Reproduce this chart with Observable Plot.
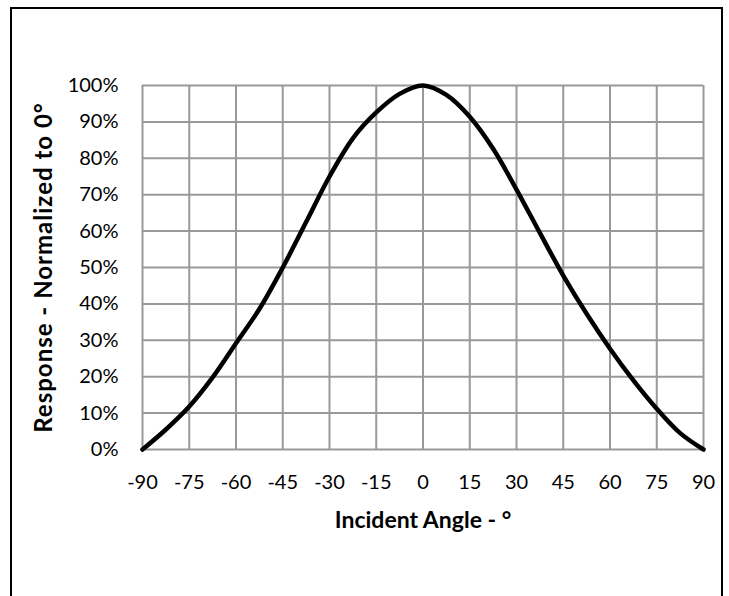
<!DOCTYPE html>
<html>
<head>
<meta charset="utf-8">
<script src="https://cdn.jsdelivr.net/npm/d3@7"></script>
<script src="https://cdn.jsdelivr.net/npm/@observablehq/plot@0.6"></script>
<style>
  html, body { margin: 0; padding: 0; background: #fff; }
  #wrap { position: relative; width: 729px; height: 596px; overflow: hidden; }
  #border { position: absolute; left: 10px; top: 7px; width: 713px; height: 600px; border: 2px solid #000; box-sizing: border-box; pointer-events: none; }
</style>
</head>
<body>
<div id="wrap"><div id="border"></div></div>
<script>
const angles = [-90, -82.5, -75, -67.5, -60, -52.5, -45, -37.5, -30, -22.5, -15, -7.5, 0, 7.5, 15, 22.5, 30, 37.5, 45, 52.5, 60, 67.5, 75, 82.5, 90];
const response = [0, 5.5, 11.8, 19.8, 29.2, 38.6, 50, 62.5, 75, 85.5, 92.6, 97.7, 100, 97.4, 91.4, 82.6, 71.4, 59.5, 47.8, 37.3, 27.7, 19, 11.2, 4.5, 0];
const xTicks = [-90, -75, -60, -45, -30, -15, 0, 15, 30, 45, 60, 75, 90];
const yTicks = [0, 10, 20, 30, 40, 50, 60, 70, 80, 90, 100];
const xTitle = "Incident Angle - °";
const yTitle = "Response - Normalized to 0°";

const data = angles.map((a, i) => ({angle: a, value: response[i]}));
const font = "Lato, 'Open Sans', sans-serif";

const chart = Plot.plot({
  width: 729,
  height: 596,
  marginLeft: 142,
  marginRight: 26,
  marginTop: 85,
  marginBottom: 147,
  style: {fontFamily: font, fontSize: "20px", color: "#000", background: "transparent"},
  x: {domain: [-90, 90]},
  y: {domain: [0, 100]},
  marks: [
    Plot.gridX(xTicks, {stroke: "#999", strokeOpacity: 1, strokeWidth: 2}),
    Plot.gridY(yTicks, {stroke: "#999", strokeOpacity: 1, strokeWidth: 2}),
    Plot.axisX(xTicks, {tickSize: 0, tickPadding: 25, fontSize: 20, label: null, tickFormat: d => String(d)}),
    Plot.axisY(yTicks, {tickSize: 0, tickPadding: 24, fontSize: 20, label: null, tickFormat: d => d + "%"}),
    Plot.line(data, {x: "angle", y: "value", stroke: "#000", strokeWidth: 4.5, curve: "catmull-rom", strokeLinecap: "round"}),
    Plot.text([xTitle], {frameAnchor: "bottom", dy: 71, lineAnchor: "middle", textAnchor: "middle", text: d => d, fontWeight: "bold", fontSize: 23}),
    Plot.text([yTitle], {frameAnchor: "left", dx: -98, rotate: -90, lineAnchor: "middle", textAnchor: "middle", text: d => d, fontWeight: "bold", fontSize: 24})
  ]
});
d3.select(chart).selectAll("text").filter(function() { return this.textContent === yTitle; }).style("letter-spacing", "1px");
document.getElementById("wrap").prepend(chart);
</script>
</body>
</html>
